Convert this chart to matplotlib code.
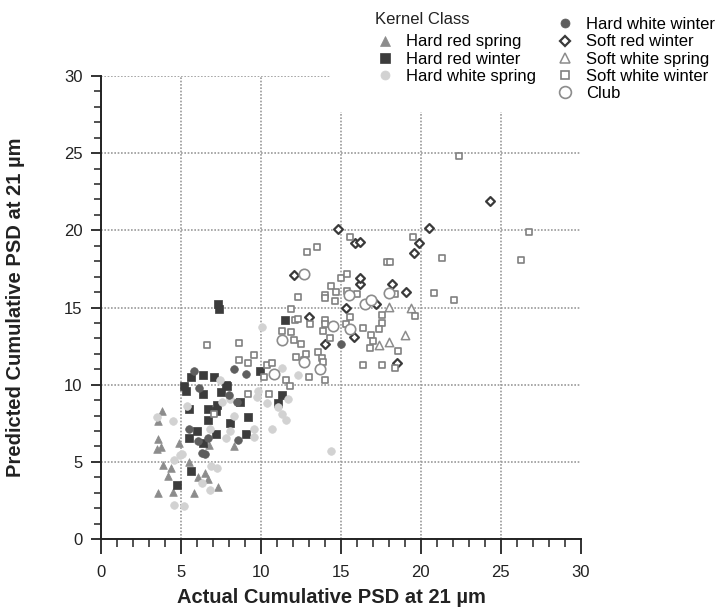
import matplotlib
matplotlib.use("Agg")
import matplotlib.pyplot as plt
from matplotlib.lines import Line2D
from matplotlib.patches import Rectangle

plt.rcParams["font.family"] = ["Liberation Sans", "DejaVu Sans"]

# actual (x) vs predicted (y) cumulative PSD, by kernel class
hrs_x = [3.8, 3.6, 3.56, 3.77, 3.5, 4.9, 6.77, 8.35, 5.5, 3.9, 4.4, 4.2, 6.06, 6.5, 6.7, 7.3, 4.5, 3.6, 5.85]
hrs_y = [8.3, 7.65, 6.5, 5.96, 5.85, 6.2, 6.07, 6.0, 5.0, 4.8, 4.6, 4.1, 4.04, 4.3, 3.9, 3.4, 3.05, 2.96, 3.0]

hrw_x = [9.96, 5.65, 6.4, 7.1, 7.8, 7.9, 5.2, 5.3, 6.4, 7.5, 8.7, 11.3, 11.1, 7.25, 6.7, 7.2, 5.5, 6.7,
         8.1, 9.2, 9.06, 7.2, 6.0, 5.5, 6.4, 5.65, 4.75, 7.36, 7.4, 11.5]
hrw_y = [10.9, 10.5, 10.65, 10.5, 10.0, 9.9, 9.9, 9.6, 9.4, 9.5, 8.9, 9.3, 8.8, 8.66, 8.4, 8.3, 8.45, 7.7,
         7.5, 7.9, 6.8, 6.8, 7.0, 6.57, 6.2, 4.4, 3.5, 15.2, 14.9, 14.2]

hws_x = [11.7, 9.75, 10.4, 11.06, 11.3, 11.56, 9.6, 10.7, 9.6, 14.4, 11.3, 7.45, 8.1, 7.6, 9.86, 5.4, 4.5,
         3.5, 8.3, 8.1, 7.8, 6.8, 4.96, 5.06, 4.6, 6.9, 7.25, 6.3, 6.8, 4.6, 5.2, 10.1, 12.35]
hws_y = [9.1, 9.2, 8.8, 8.55, 8.1, 7.7, 7.1, 7.15, 6.6, 5.7, 11.1, 10.3, 9.1, 8.9, 9.6, 8.6, 7.65,
         7.9, 7.95, 7.0, 6.55, 7.15, 5.46, 5.5, 5.1, 4.7, 4.6, 3.65, 3.2, 2.2, 2.15, 13.76, 10.6]

hww_x = [8.35, 9.1, 5.8, 6.15, 8.0, 8.5, 8.6, 5.5, 6.06, 6.7, 6.3, 6.5, 15.0]
hww_y = [11.0, 10.7, 10.87, 9.8, 9.3, 8.9, 6.4, 7.15, 6.35, 6.55, 5.6, 5.5, 12.65]

srw_x = [12.06, 13.0, 16.2, 18.2, 17.2, 15.3, 15.85, 14.0, 18.5, 24.35, 14.8, 20.5, 15.9, 16.2, 19.9,
         19.6, 16.2, 19.1]
srw_y = [17.1, 14.4, 16.5, 16.5, 15.25, 15.0, 13.1, 12.65, 11.4, 21.9, 20.1, 20.15, 19.2, 19.25, 19.2,
         18.5, 16.9, 16.0]

sws_x = [18.0, 17.4, 18.0, 19.4, 19.0]
sws_y = [15.05, 12.55, 12.75, 15.0, 13.25]

sww_x = [6.67, 8.67, 9.6, 8.67, 9.2, 10.4, 10.7, 10.2, 11.6, 11.8, 9.2, 10.5, 7.1,
         13.5, 12.9, 12.3, 11.9, 12.15, 12.3, 13.1, 11.3, 11.9, 12.1, 12.5, 12.2, 12.7, 12.8, 13.0,
         14.4, 14.0, 14.0, 14.7, 14.65, 15.4, 15.6, 16.0, 18.1, 18.4, 14.0, 14.0, 15.3, 15.6, 16.4,
         16.9, 17.0, 17.6, 17.6, 17.4, 16.8, 18.6, 14.3, 13.9, 13.6, 13.8, 13.9, 13.7, 16.4, 17.6,
         18.4, 14.0, 22.4, 15.6, 19.5, 17.9, 18.1, 21.3, 15.0, 15.4, 20.8, 22.1, 19.65, 26.8, 26.25]
sww_y = [12.6, 12.7, 11.9, 11.6, 11.4, 11.25, 11.4, 10.5, 10.3, 9.9, 9.4, 9.4, 8.1,
         18.9, 18.6, 15.7, 14.9, 14.2, 14.25, 13.9, 13.5, 13.4, 12.9, 12.65, 11.8, 11.6, 12.0, 10.5,
         16.4, 15.8, 15.6, 16.0, 15.4, 16.1, 15.8, 15.9, 15.9, 15.9, 14.2, 13.95, 13.95, 14.4, 13.7,
         13.2, 12.8, 14.5, 14.0, 13.6, 12.4, 12.2, 13.0, 13.5, 12.1, 11.75, 11.5, 11.0, 11.25, 11.3,
         11.1, 10.3, 24.8, 19.6, 19.55, 17.95, 17.95, 18.2, 16.9, 17.2, 15.95, 15.5, 14.45, 19.9, 18.1]

club_x = [12.7, 11.35, 10.8, 15.5, 16.5, 16.9, 18.0, 14.5, 15.6, 12.7, 13.7]
club_y = [17.2, 12.9, 10.7, 15.8, 15.25, 15.5, 15.95, 13.8, 13.6, 11.5, 11.0]

# (label, x, y, marker, size, face, edge, lw)
classes = [
    ("Hard red spring", hrs_x, hrs_y, "^", 5.5, "#8c8c8c", "#8c8c8c", 0.5),
    ("Hard red winter", hrw_x, hrw_y, "s", 5.5, "#3c3c3c", "#3c3c3c", 0.5),
    ("Hard white spring", hws_x, hws_y, "o", 5.5, "#d2d2d2", "#d2d2d2", 0.5),
    ("Hard white winter", hww_x, hww_y, "o", 5.5, "#5e5e5e", "#5e5e5e", 0.5),
    ("Soft red winter", srw_x, srw_y, "D", 4.5, "white", "#3a3a3a", 1.6),
    ("Soft white spring", sws_x, sws_y, "^", 6, "white", "#8c8c8c", 1.1),
    ("Soft white winter", sww_x, sww_y, "s", 5, "white", "#808080", 1.2),
    ("Club", club_x, club_y, "o", 7.5, "white", "#8c8c8c", 1.2),
]

fig = plt.figure(figsize=(7.21, 6.10), dpi=100)
ax = fig.add_axes([0.1397, 0.1164, 0.6657, 0.759])

for label, xs, ys, mk, ms, fc, ec, lw in classes:
    ax.scatter(xs, ys, marker=mk, s=ms ** 2, facecolor=fc, edgecolor=ec, linewidths=lw, zorder=3)

ax.set_xlim(0, 30)
ax.set_ylim(0, 30)
ax.set_xticks(range(0, 31, 5))
ax.set_yticks(range(0, 31, 5))
ax.set_xticks(range(0, 31), minor=True)
ax.set_yticks(range(0, 31), minor=True)
ax.tick_params(axis="x", which="major", length=11, width=1.3, labelsize=12, pad=8)
ax.tick_params(axis="x", which="minor", length=6, width=1.1)
ax.tick_params(axis="y", which="major", length=7, width=1.3, labelsize=12, pad=6)
ax.tick_params(axis="y", which="minor", length=5, width=1.1)
ax.tick_params(colors="#222222", which="both")

ax.grid(True, which="major", color="#9a9a9a", linestyle=(0, (1, 1)), linewidth=1.2)
ax.xaxis.get_gridlines()[-1].set_visible(False)
ax.set_axisbelow(True)

for side in ["top", "right"]:
    ax.spines[side].set_visible(False)
for side in ["left", "bottom"]:
    ax.spines[side].set_linewidth(1.4)
    ax.spines[side].set_color("#222222")

ax.set_xlabel("Actual Cumulative PSD at 21 µm", fontsize=14.5, fontweight="bold", color="#222222")
ax.set_ylabel("Predicted Cumulative PSD at 21 µm", fontsize=14.5, fontweight="bold", color="#222222")
ax.xaxis.set_label_coords(0.48, -0.106)
ax.yaxis.set_label_coords(-0.158, 0.5)

# white box behind the legend (hides the grid there)
fig.add_artist(Rectangle((330 / 721, 1 - 112 / 610), 1, 1, transform=fig.transFigure,
                         facecolor="white", edgecolor="none", zorder=2))

blank = Line2D([], [], linestyle="none", marker="")
handles = [blank]
labels = [" "]
for i, (label, xs, ys, mk, ms, fc, ec, lw) in enumerate(classes):
    h = Line2D([], [], linestyle="none", marker=mk, markersize=ms + 1, markerfacecolor=fc,
               markeredgecolor=ec, markeredgewidth=lw)
    handles.append(h)
    labels.append(label)
    if i == 2:
        handles.append(blank)
        labels.append(" ")

fig.legend(handles, labels, ncol=2, loc="upper left", bbox_to_anchor=(377 / 721, 1 - 17 / 610),
           fontsize=12, frameon=False, handlelength=0.9, handletextpad=0.85,
           labelspacing=0.14, columnspacing=1.25, borderpad=0, borderaxespad=0)
fig.text(375 / 721, 1 - 20 / 610, "Kernel Class", fontsize=12, va="center", ha="left", color="#222222")

fig.savefig("out.png", dpi=100)
